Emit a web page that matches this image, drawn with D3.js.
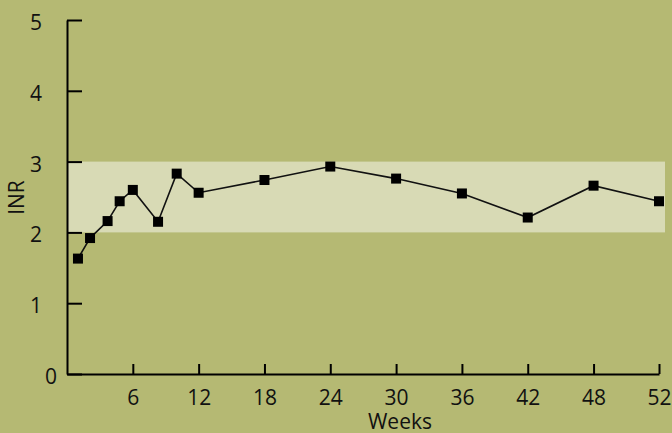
<!DOCTYPE html>
<html>
<head>
<meta charset="utf-8">
<script src="https://cdn.jsdelivr.net/npm/d3@7"></script>
<style>
  html, body { margin: 0; padding: 0; background: #b5b973; }
  svg { display: block; }
  text { font-family: "Open Sans", sans-serif; fill: #111; }
</style>
</head>
<body>
<div id="chart"></div>
<script>
// INR readings over time
var weeks = [1, 2.1, 3.7, 4.8, 6, 8.3, 10, 12, 18, 24, 30, 36, 42, 48, 52];
var inr   = [1.63, 1.92, 2.16, 2.44, 2.60, 2.15, 2.83, 2.56, 2.74, 2.93, 2.76, 2.55, 2.21, 2.66, 2.44];
var weekTicks = [6, 12, 18, 24, 30, 36, 42, 48, 52];
var inrTicks = [0, 1, 2, 3, 4, 5];
var targetRange = [2, 3];

var width = 672, height = 433;
var margin = {top: 20, left: 67, bottom: 374};

var svg = d3.select("#chart").append("svg")
    .attr("width", width)
    .attr("height", height);

svg.append("rect")
    .attr("width", width)
    .attr("height", height)
    .attr("fill", "#b5b973");

// last tick sits one interval after 48 even though it reads 52
var x = d3.scaleLinear()
    .domain([0, 48, 52])
    .range([margin.left, margin.left + 48 * 10.97, 659]);

var y = d3.scaleLinear()
    .domain([0, 5])
    .range([margin.bottom, margin.top]);

// target band
svg.append("rect")
    .attr("x", x(0))
    .attr("y", y(targetRange[1]))
    .attr("width", 665 - x(0))
    .attr("height", y(targetRange[0]) - y(targetRange[1]))
    .attr("fill", "#d8dab5");

var xAxis = svg.append("g")
    .attr("transform", "translate(0," + y(0) + ")")
    .call(d3.axisBottom(x)
      .tickValues(weekTicks)
      .tickFormat(d3.format("d"))
      .tickSizeInner(-10)
      .tickSizeOuter(0)
      .tickPadding(16));

var yAxis = svg.append("g")
    .attr("transform", "translate(" + x(0) + ",0)")
    .call(d3.axisLeft(y)
      .tickValues(inrTicks)
      .tickFormat(d3.format("d"))
      .tickSizeInner(-15)
      .tickSizeOuter(0)
      .tickPadding(25));

[xAxis, yAxis].forEach(function(g) {
  g.select(".domain").attr("stroke", "#000").attr("stroke-width", 2);
  g.selectAll(".tick line").attr("stroke", "#000").attr("stroke-width", 2);
  g.selectAll(".tick text")
      .attr("fill", "#111")
      .style("font-size", "21px")
      .style("font-family", "'Open Sans', sans-serif");
});

yAxis.selectAll(".tick text").attr("dy", "0.45em");
yAxis.selectAll(".tick").filter(function(d) { return d === 0; })
    .select("text").attr("x", -10);

// series
var line = d3.line()
    .x(function(d, i) { return x(weeks[i]); })
    .y(function(d) { return y(d); });

svg.append("path")
    .datum(inr)
    .attr("fill", "none")
    .attr("stroke", "#111")
    .attr("stroke-width", 1.6)
    .attr("d", line);

svg.selectAll("rect.pt")
    .data(inr)
  .enter().append("rect")
    .attr("class", "pt")
    .attr("x", function(d, i) { return x(weeks[i]) - 5; })
    .attr("y", function(d) { return y(d) - 5; })
    .attr("width", 10)
    .attr("height", 10)
    .attr("fill", "#000");

// axis titles
svg.append("text")
    .attr("x", 400)
    .attr("y", 429)
    .attr("text-anchor", "middle")
    .style("font-size", "21px")
    .text("Weeks");

svg.append("text")
    .attr("transform", "translate(24," + 197.5 + ") rotate(-90)")
    .attr("text-anchor", "middle")
    .style("font-size", "21px")
    .text("INR");
</script>
</body>
</html>
